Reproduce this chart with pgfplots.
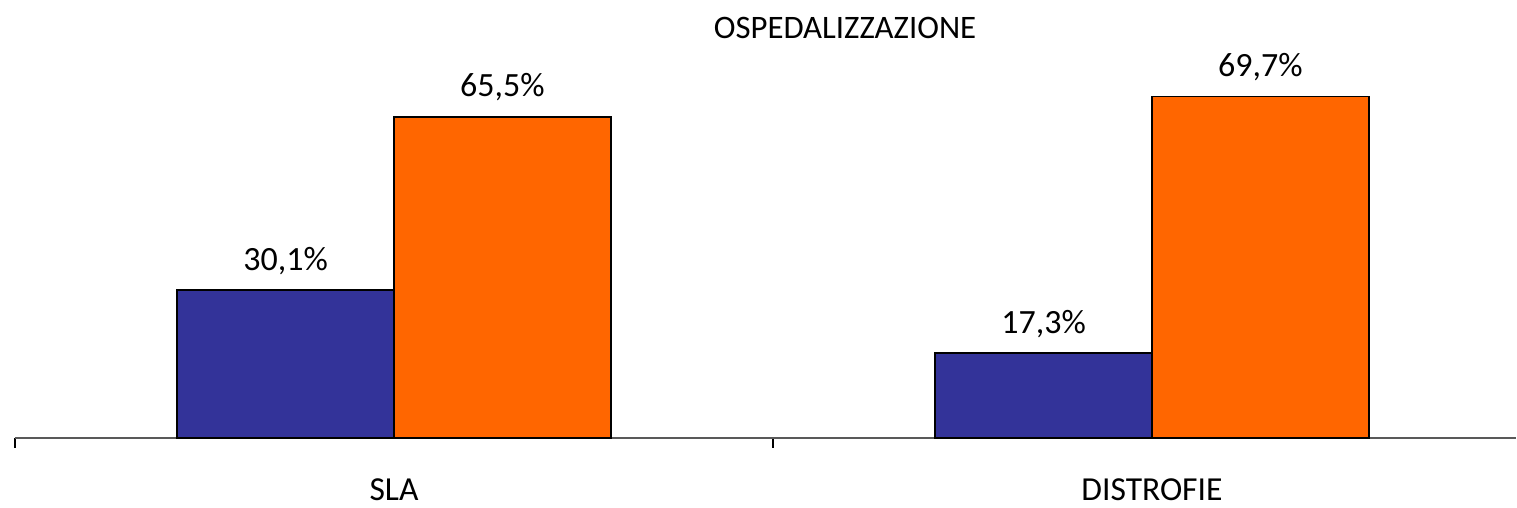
\documentclass[border=0pt]{standalone}
\usepackage{fontspec}
\setmainfont{Carlito}
\usepackage{pgfplots}
\pgfplotsset{compat=1.18}
\definecolor{bblue}{HTML}{333399}
\definecolor{borange}{HTML}{FF6600}
\begin{document}
\begin{tikzpicture}
\begin{axis}[
  scale only axis,
  width=750.9pt, height=196pt,
  xmin=-0.5, xmax=1.48, ymin=0, ymax=80,
  ybar=0pt, bar width=108.5pt,
  axis x line*=bottom, axis y line=none,
  x axis line style={draw=gray!70!black, line width=0.9pt},
  xtick={0,1}, xticklabels={SLA,DISTROFIE},
  major tick length=0pt,
  minor xtick={-0.5,0.5},
  minor tick length=5pt,
  tick align=outside,
  minor tick style={draw=black, line width=0.8pt},
  xticklabel style={font=\fontsize{16.8}{19}\selectfont, yshift=-17pt},
  clip=false,
  nodes near coords={\pgfmathprintnumber[fixed,fixed zerofill,precision=1,use comma,assume math mode=true]{\pgfplotspointmeta}\%},
  every node near coord/.append style={font=\fontsize{17}{20}\selectfont, anchor=base, yshift=10pt, text=black},
]
\addplot[fill=bblue, draw=black, line width=0.9pt] coordinates {(0,30.1) (1,17.3)};
\addplot[fill=borange, draw=black, line width=0.9pt] coordinates {(0,65.5) (1,69.7)};
\node[font=\fontsize{16.4}{19}\selectfont] at ([yshift=9pt]axis cs:0.595,80) {OSPEDALIZZAZIONE};
\coordinate (bl) at (rel axis cs:0,0);
\coordinate (tr) at (rel axis cs:1,1);
\end{axis}
\pgfresetboundingbox
\path[use as bounding box] ([xshift=-7.5pt,yshift=-35pt]bl) rectangle ([xshift=0.6pt,yshift=23pt]tr);
\end{tikzpicture}
\end{document}
